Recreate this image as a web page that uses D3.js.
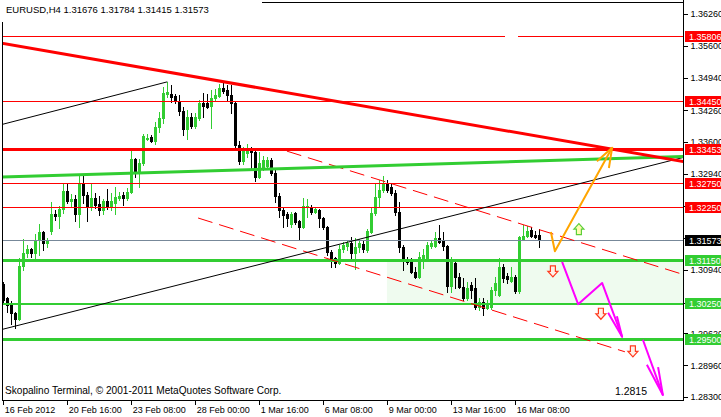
<!DOCTYPE html>
<html><head><meta charset="utf-8">
<script src="https://cdn.jsdelivr.net/npm/d3@7"></script>
<style>
body{margin:0;background:#fff}
svg{display:block}
text{font-family:"Liberation Sans",Arial,sans-serif}
</style>
</head><body>
<svg id="c" width="721" height="417"></svg>
<script>
// ---------------- DATA ----------------
const titleText = "EURUSD,H4  1.31676 1.31784 1.31415 1.31573";
const copyrightText = "Skopalino Terminal, \u00A9 2001-2011 MetaQuotes Software Corp.";

const opens = [1.3065,1.3036,1.3021,1.3005,1.2992,1.3102,1.3129,1.3138,1.3129,1.3156,
1.3173,1.3150,1.3175,1.3210,1.3206,1.3221,1.3258,1.3237,1.3242,1.3210,
1.3273,1.3250,1.3225,1.3244,1.3231,1.3219,1.3237,1.3227,1.3233,1.3244,
1.3250,1.3244,1.3256,1.3325,1.3296,1.3316,1.3366,1.3370,1.3362,1.3391,
1.3410,1.3460,1.3460,1.3456,1.3445,1.3424,1.3387,1.3412,1.3393,1.3410,
1.3441,1.3441,1.3435,1.3451,1.3456,1.3472,1.3468,1.3458,1.3441,1.3354,
1.3321,1.3337,1.3346,1.3339,1.3287,1.3308,1.3310,1.3323,1.3296,1.3248,
1.3219,1.3210,1.3190,1.3213,1.3196,1.3183,1.3225,1.3225,1.3215,1.3219,
1.3202,1.3183,1.3131,1.3119,1.3108,1.3138,1.3144,1.3150,1.3129,1.3142,
1.3148,1.3136,1.3173,1.3213,1.3246,1.3260,1.3275,1.3266,1.3254,1.3215,
1.3142,1.3117,1.3111,1.3090,1.3079,1.3119,1.3119,1.3144,1.3144,1.3161,
1.3156,1.3144,1.3061,1.3108,1.3079,1.3059,1.3036,1.3063,1.3057,1.3017,
1.3027,1.3015,1.3017,1.3052,1.3042,1.3100,1.3082,1.3071,1.3079,1.3050,
1.3158,1.3165,1.3177,1.3167,1.31676];
const highs = [1.3069,1.3038,1.3030,1.3007,1.3119,1.3158,1.3146,1.3140,1.3169,1.3190,
1.3175,1.3161,1.3235,1.3219,1.3227,1.3275,1.3273,1.3252,1.3250,1.3289,
1.3289,1.3256,1.3273,1.3254,1.3248,1.3242,1.3262,1.3254,1.3266,1.3256,
1.3256,1.3264,1.3341,1.3327,1.3325,1.3377,1.3377,1.3375,1.3402,1.3422,
1.3474,1.3485,1.3478,1.3460,1.3458,1.3433,1.3427,1.3420,1.3420,1.3447,
1.3462,1.3460,1.3468,1.3470,1.3480,1.3485,1.3478,1.3478,1.3443,1.3362,
1.3350,1.3356,1.3350,1.3343,1.3339,1.3331,1.3329,1.3327,1.3302,1.3254,
1.3225,1.3215,1.3215,1.3215,1.3198,1.3244,1.3242,1.3229,1.3225,1.3221,
1.3204,1.3185,1.3136,1.3121,1.3146,1.3152,1.3156,1.3163,1.3161,1.3158,
1.3154,1.3179,1.3225,1.3275,1.3281,1.3289,1.3281,1.3275,1.3260,1.3235,
1.3146,1.3121,1.3119,1.3100,1.3131,1.3138,1.3152,1.3156,1.3173,1.3188,
1.3173,1.3146,1.3121,1.3111,1.3088,1.3077,1.3069,1.3069,1.3077,1.3036,
1.3036,1.3032,1.3059,1.3079,1.3119,1.3106,1.3088,1.3100,1.3084,1.3165,
1.3188,1.3185,1.3183,1.3175,1.31784];
const lows = [1.3027,1.3007,1.2982,1.2973,1.2990,1.3094,1.3121,1.3121,1.3117,1.3125,
1.3136,1.3142,1.3169,1.3198,1.3181,1.3213,1.3233,1.3225,1.3196,1.3183,
1.3233,1.3196,1.3219,1.3223,1.3208,1.3210,1.3221,1.3219,1.3210,1.3239,
1.3229,1.3239,1.3254,1.3287,1.3266,1.3312,1.3364,1.3360,1.3356,1.3381,
1.3400,1.3454,1.3443,1.3441,1.3416,1.3375,1.3366,1.3389,1.3389,1.3406,
1.3412,1.3431,1.3389,1.3447,1.3454,1.3462,1.3447,1.3420,1.3350,1.3314,
1.3314,1.3329,1.3302,1.3279,1.3285,1.3302,1.3304,1.3291,1.3235,1.3204,
1.3183,1.3185,1.3183,1.3190,1.3158,1.3181,1.3204,1.3210,1.3213,1.3183,
1.3179,1.3125,1.3100,1.3100,1.3106,1.3131,1.3136,1.3113,1.3096,1.3131,
1.3131,1.3131,1.3171,1.3208,1.3225,1.3256,1.3256,1.3250,1.3208,1.3131,
1.3094,1.3106,1.3088,1.3077,1.3077,1.3098,1.3115,1.3140,1.3142,1.3150,
1.3136,1.3048,1.3048,1.3057,1.3057,1.3032,1.3032,1.3036,1.3013,1.3011,
1.3000,1.3013,1.3013,1.3042,1.3040,1.3069,1.3067,1.3069,1.3046,1.3046,
1.3156,1.3163,1.3163,1.3161,1.31415];
const closes = [1.3032,1.3021,1.3005,1.2992,1.3102,1.3129,1.3138,1.3129,1.3156,1.3173,
1.3150,1.3156,1.3210,1.3206,1.3221,1.3258,1.3237,1.3242,1.3210,1.3273,
1.3250,1.3225,1.3244,1.3229,1.3219,1.3237,1.3227,1.3237,1.3246,1.3248,
1.3244,1.3256,1.3325,1.3296,1.3316,1.3372,1.3368,1.3362,1.3391,1.3410,
1.3462,1.3464,1.3454,1.3445,1.3424,1.3387,1.3412,1.3393,1.3412,1.3441,
1.3435,1.3433,1.3451,1.3458,1.3472,1.3466,1.3458,1.3441,1.3354,1.3321,
1.3343,1.3346,1.3339,1.3287,1.3316,1.3323,1.3323,1.3296,1.3248,1.3219,
1.3208,1.3202,1.3210,1.3194,1.3183,1.3227,1.3227,1.3215,1.3221,1.3202,
1.3183,1.3131,1.3119,1.3108,1.3138,1.3146,1.3150,1.3129,1.3142,1.3150,
1.3138,1.3175,1.3213,1.3246,1.3260,1.3275,1.3260,1.3254,1.3215,1.3142,
1.3117,1.3111,1.3090,1.3079,1.3121,1.3125,1.3146,1.3150,1.3161,1.3152,
1.3144,1.3061,1.3111,1.3079,1.3059,1.3036,1.3057,1.3052,1.3017,1.3027,
1.3015,1.3023,1.3052,1.3067,1.3100,1.3077,1.3075,1.3079,1.3050,1.3163,
1.3165,1.3175,1.3165,1.3163,1.31573];

const priceTicks = [1.36260,1.35600,1.34940,1.34260,1.33600,1.32940,1.32260,1.31600,1.30940,1.30260,1.29620,1.28960,1.28300];
const timeTickBars = [0,16,32,48,64,80,96,112,128];
const timeTickLabels = ["16 Feb 2012","20 Feb 16:00","23 Feb 08:00","28 Feb 00:00","1 Mar 16:00","6 Mar 08:00","9 Mar 00:00","13 Mar 16:00","16 Mar 08:00"];

// horizontal levels
const redLevels = [1.35806,1.34450,1.33453,1.32750,1.32250];
const greenLevels = [1.31150,1.30250,1.29500];
const bidPrice = 1.31573;
const topLevelSegments = [[-1,125.4],[128.7,171]];
const zoneBars = [95.9,171];
const zonePrices = [1.31150,1.30250];

// trend lines: [bar index, price]
const redTrend = [[-1,1.3566],[171,1.3318]];
const greenTrend = [[-1,1.3287],[171,1.3330]];
const blackUpper = [[-1,1.3395],[41,1.3485]];
const blackLower = [[-1,1.2969],[171,1.3330]];
const dashUpper = [[70.9,1.3341],[171,1.3082]];
const dashLower = [[48.7,1.3202],[155.4,1.2924]];

// projections
const orangePath = [[136.9,1.3173],[137.9,1.3133],[152.2,1.3348]];
const orangeHead = [[148.4,1.3320],[152.2,1.3348],[151.4,1.3306]];
const magentaPath1 = [[139.7,1.3111],[143.7,1.3023],[149.7,1.3067],[154.7,1.2955]];
const magentaHead1 = [[151.2,1.3005],[154.7,1.2955],[153.4,1.2998]];
const magentaPath2 = [[159.9,1.2949],[164.9,1.2834]];
const magentaHead2 = [[160.9,1.2897],[164.9,1.2834],[163.7,1.2892]];
const downArrows = [[137.4,1.3091],[149.4,1.3003],[157.4,1.2925]];
const upArrows = [[143.9,1.3179]];
const targetLabel = "1.2815";
const targetPos = [152.9,1.2834];

// ---------------- CHART ----------------
const svg = d3.select("#c");
const W = 721, H = 417;
const pL = 2, pR = 683, pT = 2, pB = 400;
const x = d3.scaleLinear().domain([0,170]).range([3.3,683.3]);
const y = d3.scaleLinear().domain([1.28300,1.36260]).range([397,14]);

svg.append("rect").attr("width",W).attr("height",H).attr("fill","#fff");
svg.append("defs").append("clipPath").attr("id","clip")
  .append("rect").attr("x",pL).attr("y",pT).attr("width",pR-pL).attr("height",pB-pT);
const plot = svg.append("g").attr("clip-path","url(#clip)");

// light zone
plot.append("rect")
  .attr("x",x(zoneBars[0])).attr("width",x(zoneBars[1])-x(zoneBars[0]))
  .attr("y",y(zonePrices[0])).attr("height",y(zonePrices[1])-y(zonePrices[0]))
  .attr("fill","#effbef");

// candles
const bars = opens.map((o,i)=>({i,o,h:highs[i],l:lows[i],c:closes[i]}));
const cg = plot.append("g").attr("shape-rendering","crispEdges");
bars.forEach(b=>{
  const cx = Math.round(x(b.i));
  const col = b.c >= b.o ? "#32cd32" : "#000000";
  cg.append("line").attr("x1",cx+0.5).attr("x2",cx+0.5)
    .attr("y1",Math.round(y(b.h))).attr("y2",Math.round(y(b.l))+1)
    .attr("stroke",col).attr("stroke-width",1);
  const yt = Math.round(y(Math.max(b.o,b.c))), yb = Math.round(y(Math.min(b.o,b.c)));
  cg.append("rect").attr("x",cx-1).attr("width",3)
    .attr("y",yt).attr("height",Math.max(1,yb-yt+1)).attr("fill",col);
});

// horizontal lines
const hl = plot.append("g").attr("shape-rendering","crispEdges");
const redW = [1,1,3,1,1];
redLevels.forEach((p,k)=>{
  const segs = k===0 ? topLevelSegments : [[-1,171]];
  segs.forEach(s=>{
    hl.append("line").attr("x1",x(s[0])).attr("x2",x(s[1]))
      .attr("y1",Math.round(y(p))+0.5).attr("y2",Math.round(y(p))+0.5)
      .attr("stroke","#ff0000").attr("stroke-width",redW[k]);
  });
});
const greenW = [3,2,3];
greenLevels.forEach((p,k)=>{
  hl.append("line").attr("x1",x(-1)).attr("x2",x(171))
    .attr("y1",Math.round(y(p))+0.5).attr("y2",Math.round(y(p))+0.5)
    .attr("stroke","#32cd32").attr("stroke-width",greenW[k]);
});
hl.append("line").attr("x1",x(-1)).attr("x2",x(171))
  .attr("y1",Math.round(y(bidPrice))+0.5).attr("y2",Math.round(y(bidPrice))+0.5)
  .attr("stroke","#778899").attr("stroke-width",1);

// trend lines
const line = d3.line().x(d=>x(d[0])).y(d=>y(d[1]));
function drawPath(data,color,width,dash){
  const p = plot.append("path").attr("d",line(data)).attr("fill","none")
    .attr("stroke",color).attr("stroke-width",width).attr("stroke-linejoin","round");
  if(dash) p.attr("stroke-dasharray",dash);
  return p;
}
drawPath(dashUpper,"#ff0000",1,"15,7");
drawPath(dashLower,"#ff0000",1,"15,7");
drawPath(blackUpper,"#000000",1);
drawPath(blackLower,"#000000",1);
drawPath(greenTrend,"#32cd32",3);
drawPath(redTrend,"#ff0000",3);

// projections
drawPath(orangePath,"#ffa500",2);
drawPath(orangeHead,"#ffa500",2);
drawPath(magentaPath1,"#ff00ff",2);
drawPath(magentaHead1,"#ff00ff",2);
drawPath(magentaPath2,"#ff00ff",2);
drawPath(magentaHead2,"#ff00ff",2);

// hollow arrows
const downShape = "M-2.5,-5.5 L2.5,-5.5 L2.5,0 L5,0 L0,5.5 L-5,0 L-2.5,0 Z";
const upShape = "M-2.5,5.5 L2.5,5.5 L2.5,0 L5,0 L0,-5.5 L-5,0 L-2.5,0 Z";
downArrows.forEach(a=>{
  plot.append("path").attr("d",downShape)
    .attr("transform",`translate(${x(a[0])},${y(a[1])})`)
    .attr("fill","#fff0e8").attr("stroke","#ff3b1f").attr("stroke-width",1.2);
});
upArrows.forEach(a=>{
  plot.append("path").attr("d",upShape)
    .attr("transform",`translate(${x(a[0])},${y(a[1])})`)
    .attr("fill","#fffcb0").attr("stroke","#5ccf3a").attr("stroke-width",1.2);
});

// texts inside plot
plot.append("text").attr("x",x(targetPos[0])).attr("y",y(targetPos[1]))
  .attr("font-size","10.5px").attr("fill","#000").text(targetLabel);
svg.append("text").attr("x",5).attr("y",394).attr("font-size","10.1px").attr("fill","#000").text(copyrightText);

// frame
const fr = svg.append("g").attr("shape-rendering","crispEdges");
fr.append("line").attr("x1",pL+0.5).attr("x2",pL+0.5).attr("y1",pT).attr("y2",pB+1).attr("stroke","#000");
fr.append("line").attr("x1",pL).attr("x2",pR+1).attr("y1",pT+0.5).attr("y2",pT+0.5).attr("stroke","#000");
fr.append("line").attr("x1",pL).attr("x2",pR+1).attr("y1",pB+0.5).attr("y2",pB+0.5).attr("stroke","#000");
fr.append("line").attr("x1",pR+0.5).attr("x2",pR+0.5).attr("y1",0).attr("y2",pB+1).attr("stroke","#000");

// title with white background (hides frame there)
svg.append("rect").attr("x",0).attr("y",0).attr("width",262).attr("height",22).attr("fill","#fff");
svg.append("text").attr("x",6).attr("y",13).attr("font-size","9.5px").attr("fill","#000").text(titleText);

// right price axis
const yAxis = d3.axisRight(y).tickValues(priceTicks).tickSize(4).tickPadding(3)
  .tickFormat(d3.format(".5f"));
const ya = svg.append("g").attr("transform",`translate(${pR+0.5},0)`).call(yAxis);
ya.select(".domain").remove();
ya.selectAll("line").attr("stroke","#000").attr("shape-rendering","crispEdges");
ya.selectAll("text").attr("font-size","9px").attr("fill","#000").attr("font-family","Liberation Sans, Arial, sans-serif");

// bottom time axis
const xAxis = d3.axisBottom(x).tickValues(timeTickBars).tickSize(4).tickPadding(2)
  .tickFormat((d,i)=>timeTickLabels[i]);
const xa = svg.append("g").attr("transform",`translate(0,${pB+0.5})`).call(xAxis);
xa.select(".domain").remove();
xa.selectAll("line").attr("stroke","#000").attr("shape-rendering","crispEdges");
xa.selectAll("text").attr("text-anchor","start").attr("dx","1").attr("font-size","9px")
  .attr("fill","#000").attr("font-family","Liberation Sans, Arial, sans-serif");

// price label boxes
const boxes = redLevels.map(p=>({p,bg:"#ff0000"}))
  .concat([{p:bidPrice,bg:"#000000"}])
  .concat(greenLevels.map(p=>({p,bg:"#32cd32"})));
boxes.forEach(b=>{
  const yc = Math.round(y(b.p));
  svg.append("rect").attr("x",685).attr("y",yc-5).attr("width",36).attr("height",11)
    .attr("fill",b.bg).attr("shape-rendering","crispEdges");
  svg.append("text").attr("x",689).attr("y",yc+4).attr("font-size","9px")
    .attr("fill","#fff").text(d3.format(".5f")(b.p));
});
</script>
</body></html>
